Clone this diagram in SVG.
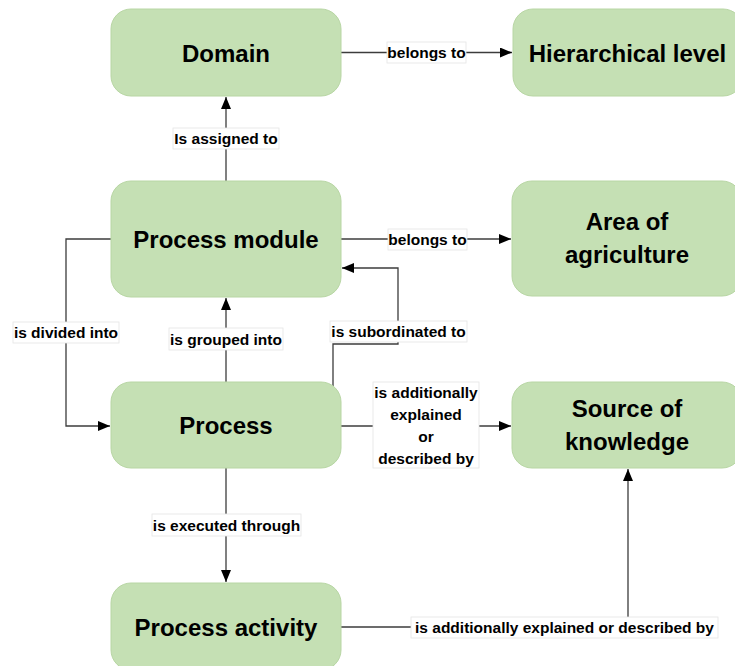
<svg xmlns="http://www.w3.org/2000/svg" width="735" height="666" viewBox="0 0 735 666">
<style>
.node rect{fill:#c5e0b4;stroke:#b8d6a4;stroke-width:1}
.node text{font-family:"Liberation Sans",Arial,sans-serif;font-weight:bold;font-size:24px;fill:#000;text-anchor:middle}
.conn path{fill:none;stroke:#3c3c3c;stroke-width:1.3}
.lbl rect{fill:#fff;stroke:#e4e4e4;stroke-width:0.8}
.lbl text{font-family:"Liberation Sans",Arial,sans-serif;font-weight:bold;font-size:15.5px;fill:#000;text-anchor:middle}
</style>
<defs>
<marker id="arr" markerUnits="userSpaceOnUse" markerWidth="13" markerHeight="10" refX="12" refY="5" orient="auto">
<path d="M0,0 L12,5 L0,10 z" fill="#000"/>
</marker>
</defs>
<rect width="735" height="666" fill="#fff"/>
<g id="connectors" class="conn">
<path d="M341,52.5 H512" marker-end="url(#arr)"/>
<path d="M226,181 V97" marker-end="url(#arr)"/>
<path d="M341,239 H511" marker-end="url(#arr)"/>
<path d="M111,239 H66 V426 H110" marker-end="url(#arr)"/>
<path d="M226,382 V298" marker-end="url(#arr)"/>
<path d="M333,386 V344 H398 V268 H342" marker-end="url(#arr)"/>
<path d="M341,426 H511" marker-end="url(#arr)"/>
<path d="M226,468 V582" marker-end="url(#arr)"/>
<path d="M341,627 H628 V469" marker-end="url(#arr)"/>
</g>
<g id="labels" class="lbl">
<g><rect x="387" y="42" width="79" height="21"/><text x="426.5" y="58">belongs to</text></g>
<g><rect x="173" y="128" width="106" height="21"/><text x="226" y="144">Is assigned to</text></g>
<g><rect x="388" y="229" width="79" height="21"/><text x="427.5" y="245">belongs to</text></g>
<g><rect x="13" y="322" width="106" height="21"/><text x="66" y="338">is divided into</text></g>
<g><rect x="169" y="328" width="114" height="22"/><text x="226" y="344.5">is grouped into</text></g>
<g><rect x="330" y="321" width="137" height="21"/><text x="398.5" y="337">is subordinated to</text></g>
<g><rect x="373" y="382" width="106" height="86"/>
<text x="426" y="398">is additionally</text>
<text x="426" y="420">explained</text>
<text x="426" y="442">or</text>
<text x="426" y="464">described by</text></g>
<g><rect x="152" y="514" width="149" height="22"/><text x="226.5" y="530.5">is executed through</text></g>
<g><rect x="411" y="617" width="307" height="21"/><text x="564.5" y="633">is additionally explained or described by</text></g>
</g>
<g id="domain" class="node"><rect x="111" y="9" width="230" height="87" rx="20"/><text x="226" y="61.5">Domain</text></g>
<g id="hierarchical-level" class="node"><rect x="513" y="9" width="230" height="87" rx="20"/><text x="627.5" y="61.5">Hierarchical level</text></g>
<g id="process-module" class="node"><rect x="111" y="181" width="230" height="116" rx="20"/><text x="226" y="248">Process module</text></g>
<g id="area-of-agriculture" class="node"><rect x="512" y="181" width="230" height="115" rx="20"/><text x="627" y="230">Area of</text><text x="627" y="263">agriculture</text></g>
<g id="process" class="node"><rect x="111" y="382" width="230" height="86" rx="20"/><text x="226" y="434">Process</text></g>
<g id="source-of-knowledge" class="node"><rect x="512" y="382" width="230" height="86" rx="20"/><text x="627" y="417">Source of</text><text x="627" y="450">knowledge</text></g>
<g id="process-activity" class="node"><rect x="111" y="583" width="230" height="87" rx="20"/><text x="226" y="636">Process activity</text></g>
</svg>
